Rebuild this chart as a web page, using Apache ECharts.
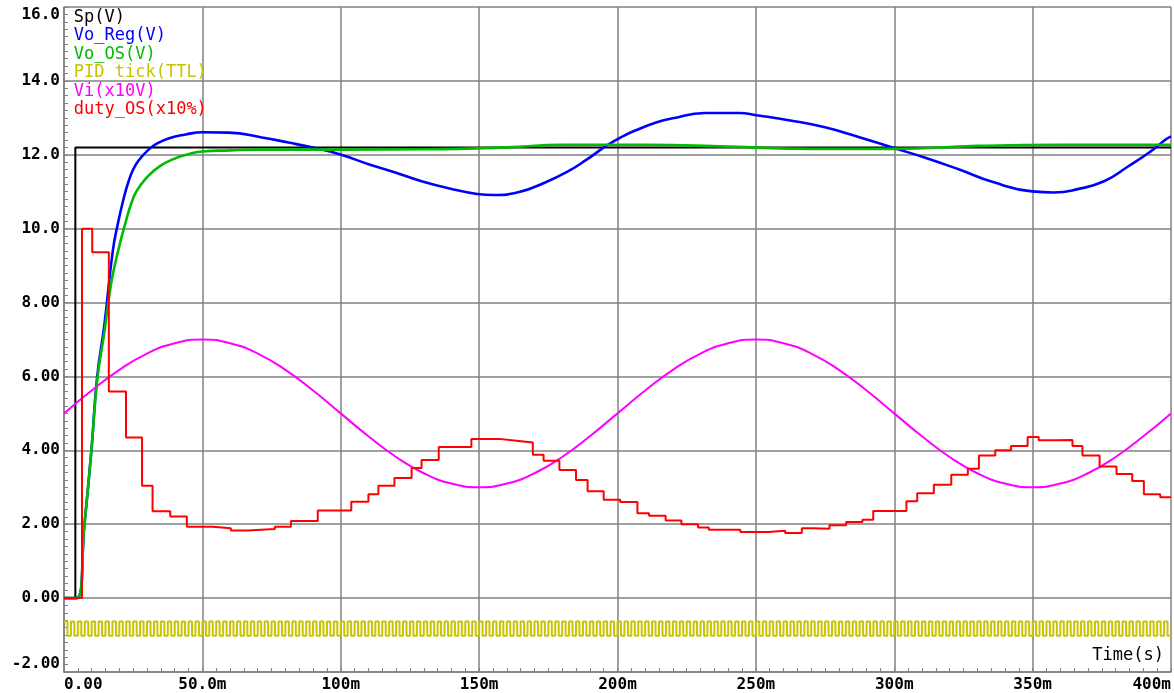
<!DOCTYPE html>
<html><head><meta charset="utf-8">
<script src="https://cdn.jsdelivr.net/npm/echarts@6/dist/echarts.min.js"></script>
<style>html,body{margin:0;padding:0;background:#fff}#c{width:1174px;height:693px}</style>
</head><body><div id="c"></div>
<script>
// ---- data (time in ms) ----
const seriesNames = ['Sp(V)', 'Vo_Reg(V)', 'Vo_OS(V)', 'PID tick(TTL)', 'Vi(x10V)', 'duty_OS(x10%)'];
const seriesColors = ['#000000', '#0000ff', '#00bb00', '#c8c400', '#ff00ff', '#ff0000'];
const xTickLabels = ['0.00', '50.0m', '100m', '150m', '200m', '250m', '300m', '350m', '400m'];
const yTickLabels = ['-2.00', '0.00', '2.00', '4.00', '6.00', '8.00', '10.0', '12.0', '14.0', '16.0'];

const spT = [0, 4.1, 4.1, 400];
const spV = [0, 0, 12.2, 12.2];

const voRegT = [0, 4.5, 7.4, 9.9, 12.0, 14.6, 17.6, 19.5, 21.5, 23.2, 25.0, 27.0, 30.0, 33.5, 38, 44, 50, 59.6, 71.5, 81.1, 90.7, 100.2,
  109.8, 119.4, 128.9, 139.7, 149.3, 155.3, 164.8, 173.2, 181.6, 188.7, 195.9, 201.9, 206.9, 214.2, 219.4, 231.7, 244, 250.2, 262.4, 274.6,
  286.8, 299.6, 311.2, 323.5, 335.7, 349.8, 357.7, 366.3, 376, 384.6, 392.1, 398.2, 400];
const voRegV = [0, 0, 2.0, 4.0, 6.0, 7.4, 9.38, 10.15, 10.8, 11.25, 11.6, 11.85, 12.1, 12.3, 12.45, 12.55, 12.61, 12.6, 12.47, 12.33, 12.18, 12.0,
  11.75, 11.53, 11.29, 11.08, 10.94, 10.91, 11.0, 11.23, 11.53, 11.86, 12.24, 12.5, 12.67, 12.88, 12.98, 13.13, 13.13, 13.07, 12.93, 12.75,
  12.49, 12.19, 11.92, 11.6, 11.26, 11.01, 10.98, 11.07, 11.29, 11.69, 12.06, 12.42, 12.5];

const voOsT = [0, 4.5, 7.4, 9.9, 12.0, 14.6, 17.0, 19.5, 22.5, 24.3, 26.1, 29.7, 34.4, 40.4, 45.2, 50, 60, 70, 100, 130, 160,
  180, 210, 240, 270, 300, 330, 360, 400];
const voOsV = [0, 0, 2.0, 4.0, 5.9, 7.2, 8.5, 9.38, 10.24, 10.68, 11.0, 11.37, 11.68, 11.91, 12.02, 12.09, 12.12, 12.14, 12.14, 12.15, 12.2,
  12.27, 12.27, 12.22, 12.16, 12.16, 12.24, 12.27, 12.27];

const pidRiseT = [
  0, 2.5, 5, 7.5, 10, 12.5, 15, 17.5, 20, 22.5, 25, 27.5, 30, 32.5, 35, 37.5, 40, 42.5, 45, 47.5,
  50, 52.5, 55, 57.5, 60, 62.5, 65, 67.5, 70, 72.5, 75, 77.5, 80, 82.5, 85, 87.5, 90, 92.5, 95, 97.5,
  100, 102.5, 105, 107.5, 110, 112.5, 115, 117.5, 120, 122.5, 125, 127.5, 130, 132.5, 135, 137.5, 140, 142.5, 145, 147.5,
  150, 152.5, 155, 157.5, 160, 162.5, 165, 167.5, 170, 172.5, 175, 177.5, 180, 182.5, 185, 187.5, 190, 192.5, 195, 197.5,
  200, 202.5, 205, 207.5, 210, 212.5, 215, 217.5, 220, 222.5, 225, 227.5, 230, 232.5, 235, 237.5, 240, 242.5, 245, 247.5,
  250, 252.5, 255, 257.5, 260, 262.5, 265, 267.5, 270, 272.5, 275, 277.5, 280, 282.5, 285, 287.5, 290, 292.5, 295, 297.5,
  300, 302.5, 305, 307.5, 310, 312.5, 315, 317.5, 320, 322.5, 325, 327.5, 330, 332.5, 335, 337.5, 340, 342.5, 345, 347.5,
  350, 352.5, 355, 357.5, 360, 362.5, 365, 367.5, 370, 372.5, 375, 377.5, 380, 382.5, 385, 387.5, 390, 392.5, 395, 397.5];
const pidHigh = -0.63, pidLow = -1.02, pidWidth = 1.25;

const viT = [0, 10, 20, 30, 40, 50, 60, 70, 80, 90, 100, 110, 120, 130, 140, 150, 160, 170, 180, 190, 200,
  210, 220, 230, 240, 250, 260, 270, 280, 290, 300, 310, 320, 330, 340, 350, 360, 370, 380, 390, 400];
const viV = [5.00, 5.62, 6.18, 6.62, 6.90, 7.00, 6.90, 6.62, 6.18, 5.62, 5.00, 4.38, 3.82, 3.38, 3.10, 3.00, 3.10, 3.38, 3.82, 4.38, 5.00,
  5.62, 6.18, 6.62, 6.90, 7.00, 6.90, 6.62, 6.18, 5.62, 5.00, 4.38, 3.82, 3.38, 3.10, 3.00, 3.10, 3.38, 3.82, 4.38, 5.00];

const dutyT = [0, 6.5, 10.2, 16.2, 22.4, 28.2, 32.0, 38.4, 44.4, 53.8, 60.3, 66.4, 76.2, 82.0, 91.7, 103.8, 110.0, 113.6, 119.4, 125.6,
  129.2, 135.4, 147.2, 157.3, 163.4, 169.4, 173.3, 179.0, 185.0, 189.2, 195.0, 201.0, 207.2, 211.4, 217.4, 223.1, 229.1, 233.0, 244.4, 254.5,
  260.6, 266.6, 270.5, 276.6, 282.6, 288.5, 292.4, 304.4, 308.3, 314.3, 320.6, 326.6, 330.6, 336.5, 342.2, 348.2, 352.2, 358.6, 364.4, 368.0,
  374.2, 380.3, 386.0, 390.2, 396.1, 400];
const dutyV = [0, 10.0, 9.36, 5.59, 4.35, 3.04, 2.35, 2.21, 1.93, 1.89, 1.83, 1.87, 1.93, 2.09, 2.37, 2.61, 2.81, 3.04, 3.25, 3.52,
  3.74, 4.09, 4.31, 4.26, 4.21, 3.88, 3.72, 3.47, 3.20, 2.89, 2.66, 2.60, 2.30, 2.23, 2.10, 2.00, 1.91, 1.85, 1.79, 1.82,
  1.76, 1.89, 1.88, 1.97, 2.06, 2.12, 2.36, 2.62, 2.84, 3.07, 3.34, 3.50, 3.86, 4.00, 4.12, 4.36, 4.27, 4.28, 4.12, 3.86,
  3.56, 3.36, 3.17, 2.81, 2.73, 2.73];

// ---- build ----
const zip = (t, v) => t.map((x, i) => [x, v[i]]);
const pidData = [];
pidRiseT.forEach(r => { pidData.push([r, pidHigh]); pidData.push([r + pidWidth, pidLow]); });
pidData.push([400, pidLow]);

const MONO = '"DejaVu Sans Mono", "Liberation Mono", monospace';
const gridColor = '#808080';

const chart = echarts.init(document.getElementById('c'), null, { renderer: 'canvas' });
const mk = (i, data, extra) => Object.assign({
  name: seriesNames[i], type: 'line', data: data, showSymbol: false, symbol: 'none',
  color: seriesColors[i], lineStyle: { color: seriesColors[i], width: 2 }, animation: false, z: 2 + i
}, extra || {});

chart.setOption({
  backgroundColor: '#ffffff',
  animation: false,
  grid: { left: 64, right: -2, top: 7, bottom: 18, containLabel: false },
  legend: {
    orient: 'vertical', left: 62, top: 9, itemWidth: 0, itemHeight: 17, itemGap: 1.5,
    selectedMode: false, padding: 0,
    lineStyle: { opacity: 0 }, itemStyle: { opacity: 0 },
    textStyle: { fontFamily: MONO, fontSize: 17, lineHeight: 17 },
    data: seriesNames.map((n, i) => ({ name: n, textStyle: { color: seriesColors[i] } }))
  },
  xAxis: {
    type: 'value', min: 0, max: 400, interval: 50,
    axisLine: { onZero: false, lineStyle: { color: gridColor, width: 1.5 } },
    axisTick: { show: true, inside: true, length: 4, lineStyle: { color: gridColor } },
    minorTick: { show: true, splitNumber: 10, length: 4, lineStyle: { color: gridColor } },
    splitLine: { show: true, lineStyle: { color: gridColor, width: 1.5 } },
    axisLabel: {
      margin: 5, color: '#000', fontFamily: MONO, fontWeight: 'bold', fontSize: 16,
      alignMinLabel: 'left', alignMaxLabel: 'right',
      formatter: v => xTickLabels[Math.round(v / 50)]
    }
  },
  yAxis: {
    type: 'value', min: -2, max: 16, interval: 2,
    axisLine: { show: true, lineStyle: { color: gridColor, width: 1.5 } },
    axisTick: { show: true, inside: true, length: 4, lineStyle: { color: gridColor } },
    minorTick: { show: true, splitNumber: 10, length: 4, lineStyle: { color: gridColor } },
    splitLine: { show: true, lineStyle: { color: gridColor, width: 1.5 } },
    axisLabel: {
      margin: 4, color: '#000', fontFamily: MONO, fontWeight: 'bold', fontSize: 16,
      verticalAlignMinLabel: 'bottom', verticalAlignMaxLabel: 'top',
      formatter: v => yTickLabels[Math.round((v + 2) / 2)]
    }
  },
  graphic: [{
    type: 'text', right: 10, top: 647, z: 100,
    style: { text: 'Time(s)', fill: '#000', font: '17px ' + MONO }
  }],
  series: [
    mk(0, zip(spT, spV)),
    mk(1, zip(voRegT, voRegV), { smooth: 0.5, lineStyle: { color: seriesColors[1], width: 2.6 } }),
    mk(2, zip(voOsT, voOsV), { smooth: 0.5, lineStyle: { color: seriesColors[2], width: 2.6 } }),
    mk(3, pidData, { step: 'end', lineStyle: { color: seriesColors[3], width: 2 } }),
    mk(4, zip(viT, viV), { smooth: true }),
    mk(5, zip(dutyT, dutyV), { step: 'end' })
  ]
});
</script></body></html>
